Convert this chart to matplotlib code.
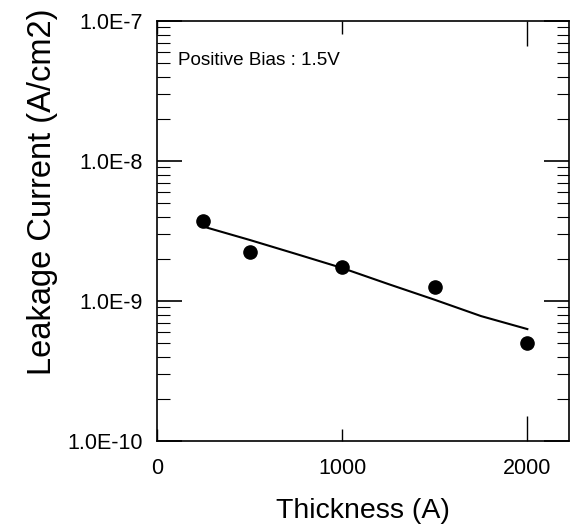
import matplotlib
matplotlib.use("Agg")
import matplotlib.pyplot as plt
from matplotlib.ticker import LogLocator, NullFormatter, FixedLocator

plt.rcParams["font.family"] = ["Liberation Sans", "DejaVu Sans"]

# measured points
thickness = [250, 500, 1000, 1500, 2000]
leakage = [3.75e-9, 2.24e-9, 1.76e-9, 1.26e-9, 5.0e-10]

# fitted curve
fit_x = [250, 500, 750, 1000, 1250, 1500, 1750, 2000]
fit_y = [3.40e-9, 2.73e-9, 2.17e-9, 1.72e-9, 1.32e-9, 1.02e-9, 7.8e-10, 6.3e-10]

fig = plt.figure(figsize=(5.71, 5.31), dpi=100)
ax = fig.add_axes([0.275, 0.1695, 0.7215, 0.791])

ax.plot(fit_x, fit_y, color="black", linewidth=1.5)
ax.plot(thickness, leakage, "o", color="black", markersize=9.5)

ax.set_yscale("log")
ax.set_ylim(1e-10, 1e-7)
ax.set_xlim(0, 2225)

ax.yaxis.set_major_locator(FixedLocator([1e-10, 1e-9, 1e-8, 1e-7]))
ax.set_yticklabels(["1.0E-10", "1.0E-9", "1.0E-8", "1.0E-7"])
ax.yaxis.set_minor_locator(LogLocator(base=10, subs=range(2, 10)))
ax.yaxis.set_minor_formatter(NullFormatter())

ax.set_xticks([0, 1000, 2000])
ax.set_xticklabels(["0", "1000", "2000"])

ax.tick_params(axis="y", which="major", direction="in", length=18, width=1.2,
               left=True, right=True, labelsize=15.5, pad=10)
ax.tick_params(axis="y", which="minor", direction="in", length=9, width=0.8,
               left=True, right=True)
ax.tick_params(axis="x", which="major", direction="in", length=9, width=1.0,
               bottom=True, top=True, labelsize=15.5, pad=12)

# the 2000 tick is drawn longer in the original
t2000 = ax.xaxis.get_major_ticks()[2]
t2000.tick1line.set_markersize(18)
t2000.tick2line.set_markersize(18)

for sp in ax.spines.values():
    sp.set_linewidth(1.2)

ax.set_xlabel("Thickness (A)", fontsize=20.5, va="top")
ax.set_ylabel("Leakage Current (A/cm2)", fontsize=23.5, va="center")
ax.xaxis.set_label_coords(0.5, -0.136)
ax.yaxis.set_label_coords(-0.279, 0.593)

ax.text(0.05, 0.905, "Positive Bias : 1.5V", transform=ax.transAxes,
        fontsize=13.6, va="center", ha="left")

fig.savefig("out.png", dpi=100)
